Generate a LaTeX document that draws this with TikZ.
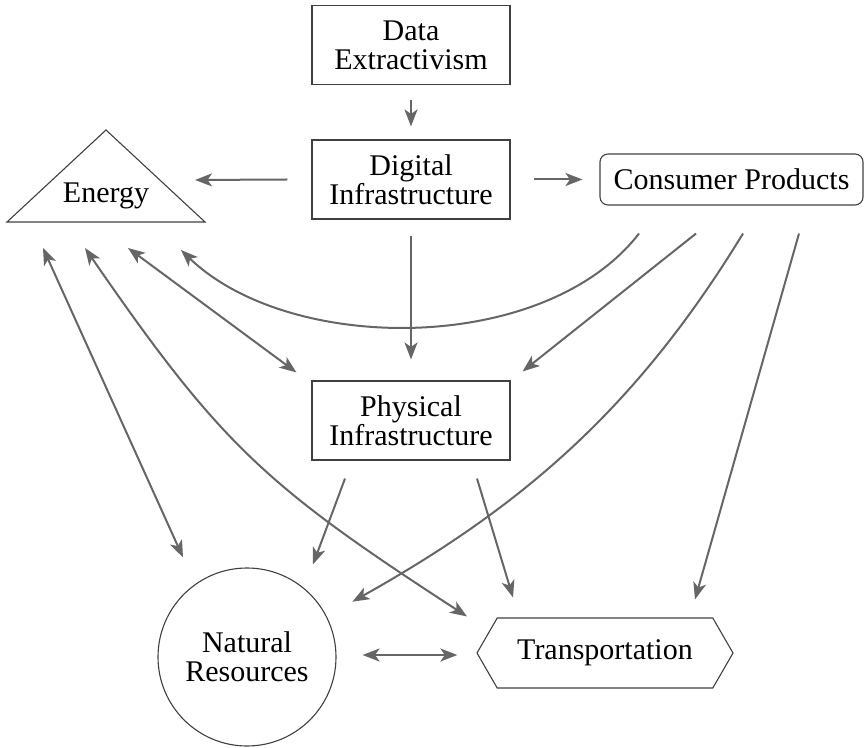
\documentclass[tikz,border=0pt]{standalone}
\usepackage{fontspec}
\setmainfont{Liberation Serif}
\usetikzlibrary{shapes.geometric,shapes.symbols,arrows.meta}

\begin{document}
\begin{tikzpicture}[x=1pt,y=1pt,
  every node/.style={font=\fontsize{30}{29}\selectfont, align=center, text=black},
  shp/.style={draw=black!75, line width=1.1pt, inner sep=0pt},
  box/.style={shp, minimum width=198pt, minimum height=79pt},
  prod/.style={shp, rounded corners=8pt, minimum width=263pt, minimum height=51pt},
  disc/.style={shp, circle, minimum size=178pt},
  hexa/.style={shp, signal, signal to=east and west, signal pointer angle=120,
    minimum width=256pt, minimum height=70pt},
  tip/.tip={Stealth[length=17pt,width=13pt,inset=4.5pt]},
  link/.style={draw=black!60, line width=2pt, -tip},
  both/.style={link, tip-tip}]
\useasboundingbox (0,0) rectangle (864,747);

% the boxes
\node[box] (data) at (411,702) {Data\\Extractivism};
\node[box] (digital) at (411,567.5) {Digital\\Infrastructure};
\node[box] (physical) at (411,326.5) {Physical\\Infrastructure};
\node[prod] (consumer) at (731.5,567.5) {Consumer Products};
\node[inner sep=0pt] (energy) at (106,551) {Energy};
\draw[shp] ([shift={(-99,-26)}]energy.center) -- ([shift={(0,66)}]energy.center)
  -- ([shift={(99,-26)}]energy.center) -- cycle;
\node[disc] (nat) at (247,90) {Natural\\Resources};
\node[hexa] (trans) at (605,94) {Transportation};

% arrows from the top
\draw[link] ([yshift=-15pt]data.south) -- ([yshift=13pt]digital.north);
\draw[link] ([yshift=-16pt]digital.south) -- ([yshift=21pt]physical.north);
\draw[link] ([xshift=-24pt]digital.west) -- ([shift={(89,16)}]energy.center);
\draw[link] ([xshift=23pt]digital.east) -- ([xshift=-17pt]consumer.west);

% energy
\draw[both] ([shift={(-63,-52)}]energy.center) -- ([shift={(-64,10)}]nat.north);
\draw[both] ([shift={(-21,-52)}]energy.center) .. controls (221,301.5) and (266,261) .. ([shift={(-138,1)}]trans.north);
\draw[both] ([shift={(22,-52)}]energy.center) -- ([shift={(-15,8)}]physical.north west);

% consumer products
\draw[link] ([shift={(-92.5,-28)}]consumer.south) .. controls (545,392) and (290,392) .. ([shift={(75,-54)}]energy.center);
\draw[link] ([shift={(-35.5,-28)}]consumer.south) -- ([shift={(12,9)}]physical.north east);
\draw[link] ([shift={(11.5,-28)}]consumer.south) .. controls (639,343) and (527,243) .. ([shift={(42,-8)}]nat.45);
\draw[link] ([shift={(67.5,-28)}]consumer.south) -- ([shift={(90,18)}]trans.north);

% bottom
\draw[link] ([shift={(-66,-18)}]physical.south) -- ([shift={(66,3)}]nat.north);
\draw[link] ([shift={(66,-18)}]physical.south) -- ([shift={(-92,20)}]trans.north);
\draw[both] ([shift={(26,2)}]nat.east) -- ([shift={(-19,-2)}]trans.west);
\end{tikzpicture}
\end{document}
